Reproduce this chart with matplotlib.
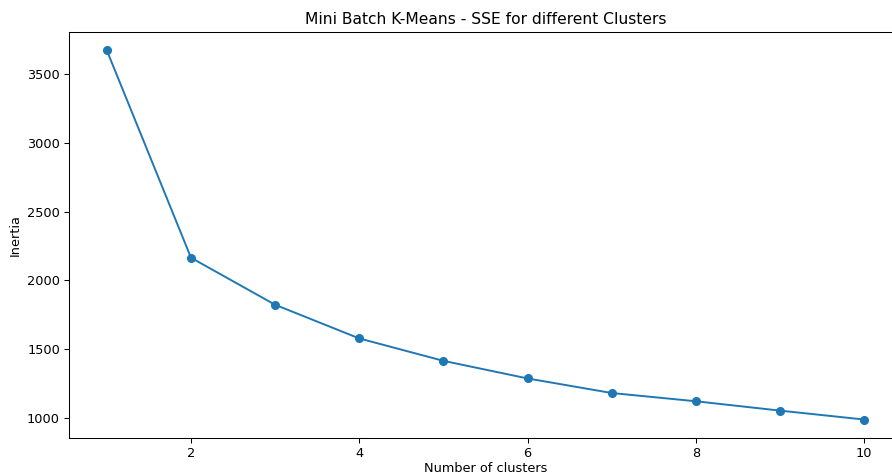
import numpy as np
import matplotlib.pyplot as plt

# クラスタ数と慣性(SSE)
clusters = [1, 2, 3, 4, 5, 6, 7, 8, 9, 10]
inertia = [3672, 2164, 1822, 1577, 1414, 1286, 1180, 1120, 1052, 987]

DPI = 93
fig = plt.figure(figsize=(892 / DPI, 476 / DPI), dpi=DPI)
# 右側は元画像で切れているので、軸を少しはみ出させる
ax = fig.add_axes([69 / 892, 38 / 476, 833 / 892, 406 / 476])

ax.plot(clusters, inertia, marker='o')
ax.set_title('Mini Batch K-Means - SSE for different Clusters')
ax.set_xlabel('Number of clusters', labelpad=1.5)
ax.set_ylabel('Inertia')

fig.savefig('out.png', dpi=DPI)
